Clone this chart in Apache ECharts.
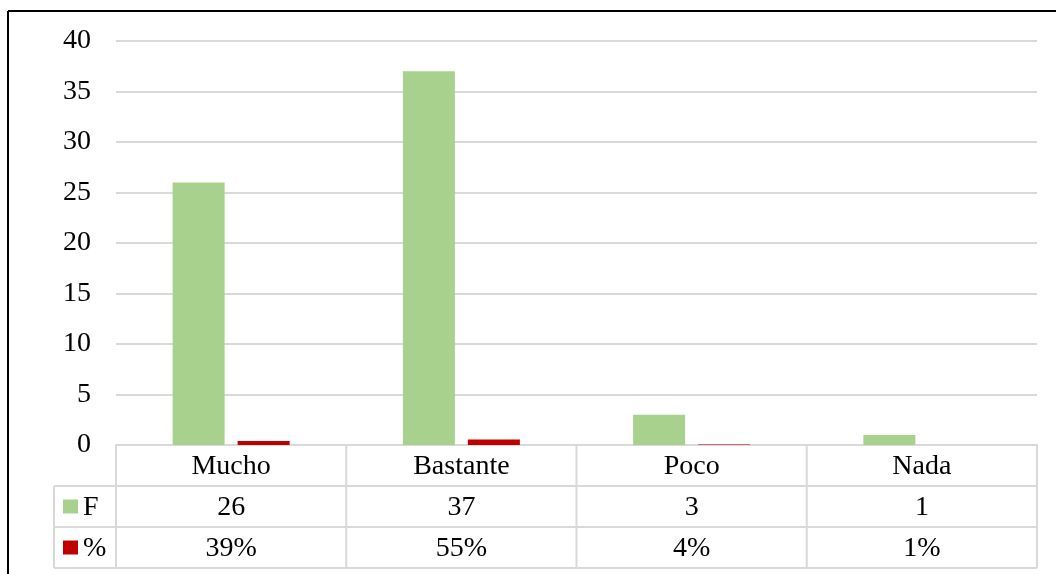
<!DOCTYPE html>
<html>
<head>
<meta charset="utf-8">
<script src="https://cdn.jsdelivr.net/npm/echarts@6/dist/echarts.min.js"></script>
<style>
html,body{margin:0;padding:0;background:#fff;}
#c{width:1056px;height:574px;}
</style>
</head>
<body>
<div id="c"></div>
<script>
const categories = ['Mucho', 'Bastante', 'Poco', 'Nada'];
const freqValues = [26, 37, 3, 1];
const pctValues = [0.39, 0.55, 0.04, 0.01];
const pctLabels = ['39%', '55%', '4%', '1%'];
const seriesNames = ['F', '%'];
const yMin = 0, yMax = 40, yInterval = 5;

const GREEN = '#a9d18e', RED = '#c00000', GRID = '#d9d9d9';
const FONT = '"Liberation Serif", "Times New Roman", serif';
const FS = 28;

const chart = echarts.init(document.getElementById('c'), null, {renderer: 'canvas'});
const option = {
  animation: false,
  backgroundColor: '#fff',
  grid: {left: 116, right: 19, top: 41, bottom: 129},
  xAxis: {
    type: 'category',
    data: categories,
    axisLine: {show: true, lineStyle: {color: GRID, width: 2}},
    axisTick: {show: false},
    axisLabel: {show: false},
    splitLine: {show: false}
  },
  yAxis: {
    type: 'value',
    min: yMin, max: yMax, interval: yInterval,
    axisLine: {show: false},
    axisTick: {show: false},
    axisLabel: {color: '#000', fontFamily: FONT, fontSize: FS, margin: 25},
    splitLine: {lineStyle: {color: GRID, width: 2}}
  },
  series: [
    {name: seriesNames[0], type: 'bar', data: freqValues, barWidth: 52, barGap: '25%', itemStyle: {color: GREEN}},
    {name: seriesNames[1], type: 'bar', data: pctValues, barWidth: 52, barGap: '25%', itemStyle: {color: RED}}
  ]
};
chart.setOption(option);

// Build data table beneath the axis from the data arrays
const y0 = chart.convertToPixel({yAxisIndex: 0}, 0);
const c0 = chart.convertToPixel({xAxisIndex: 0}, 0);
const c1 = chart.convertToPixel({xAxisIndex: 0}, 1);
const band = c1 - c0;
const leftX = c0 - band / 2;
const rightX = chart.convertToPixel({xAxisIndex: 0}, categories.length - 1) + band / 2;
const rowH = 41;
const legendLeft = 54;
const g = [];
const lineStyle = {stroke: GRID, lineWidth: 2};
// frame
g.push({type: 'line', shape: {x1: 8, y1: 11, x2: 1056, y2: 11}, style: {stroke: '#000', lineWidth: 2}, silent: true});
g.push({type: 'line', shape: {x1: 8, y1: 11, x2: 8, y2: 574}, style: {stroke: '#000', lineWidth: 2}, silent: true});
// horizontal lines
for (let r = 1; r <= 3; r++) {
  g.push({type: 'line', shape: {x1: legendLeft, y1: y0 + r * rowH, x2: rightX, y2: y0 + r * rowH}, style: lineStyle, silent: true});
}
// vertical lines
for (let i = 0; i <= categories.length; i++) {
  const x = leftX + i * band;
  g.push({type: 'line', shape: {x1: x, y1: y0, x2: x, y2: y0 + 3 * rowH}, style: lineStyle, silent: true});
}
g.push({type: 'line', shape: {x1: legendLeft, y1: y0 + rowH, x2: legendLeft, y2: y0 + 3 * rowH}, style: lineStyle, silent: true});
// cell text
const rows = [categories, freqValues.map(String), pctLabels];
rows.forEach((row, r) => {
  row.forEach((txt, i) => {
    const cx = chart.convertToPixel({xAxisIndex: 0}, i);
    g.push({type: 'text', x: cx, y: y0 + r * rowH + rowH / 2 + 1,
      style: {text: txt, font: FS + 'px ' + FONT, fill: '#000', textAlign: 'center', textVerticalAlign: 'middle'}, silent: true});
  });
});
// legend keys
const keyColors = [GREEN, RED];
seriesNames.forEach((nm, k) => {
  const cy = y0 + (k + 1) * rowH + rowH / 2;
  g.push({type: 'rect', shape: {x: 63, y: cy - 7, width: 15, height: 14}, style: {fill: keyColors[k]}, silent: true});
  g.push({type: 'text', x: 83, y: cy + 1, style: {text: nm, font: FS + 'px ' + FONT, fill: '#000', textAlign: 'left', textVerticalAlign: 'middle'}, silent: true});
});
chart.setOption({graphic: g});
</script>
</body>
</html>
